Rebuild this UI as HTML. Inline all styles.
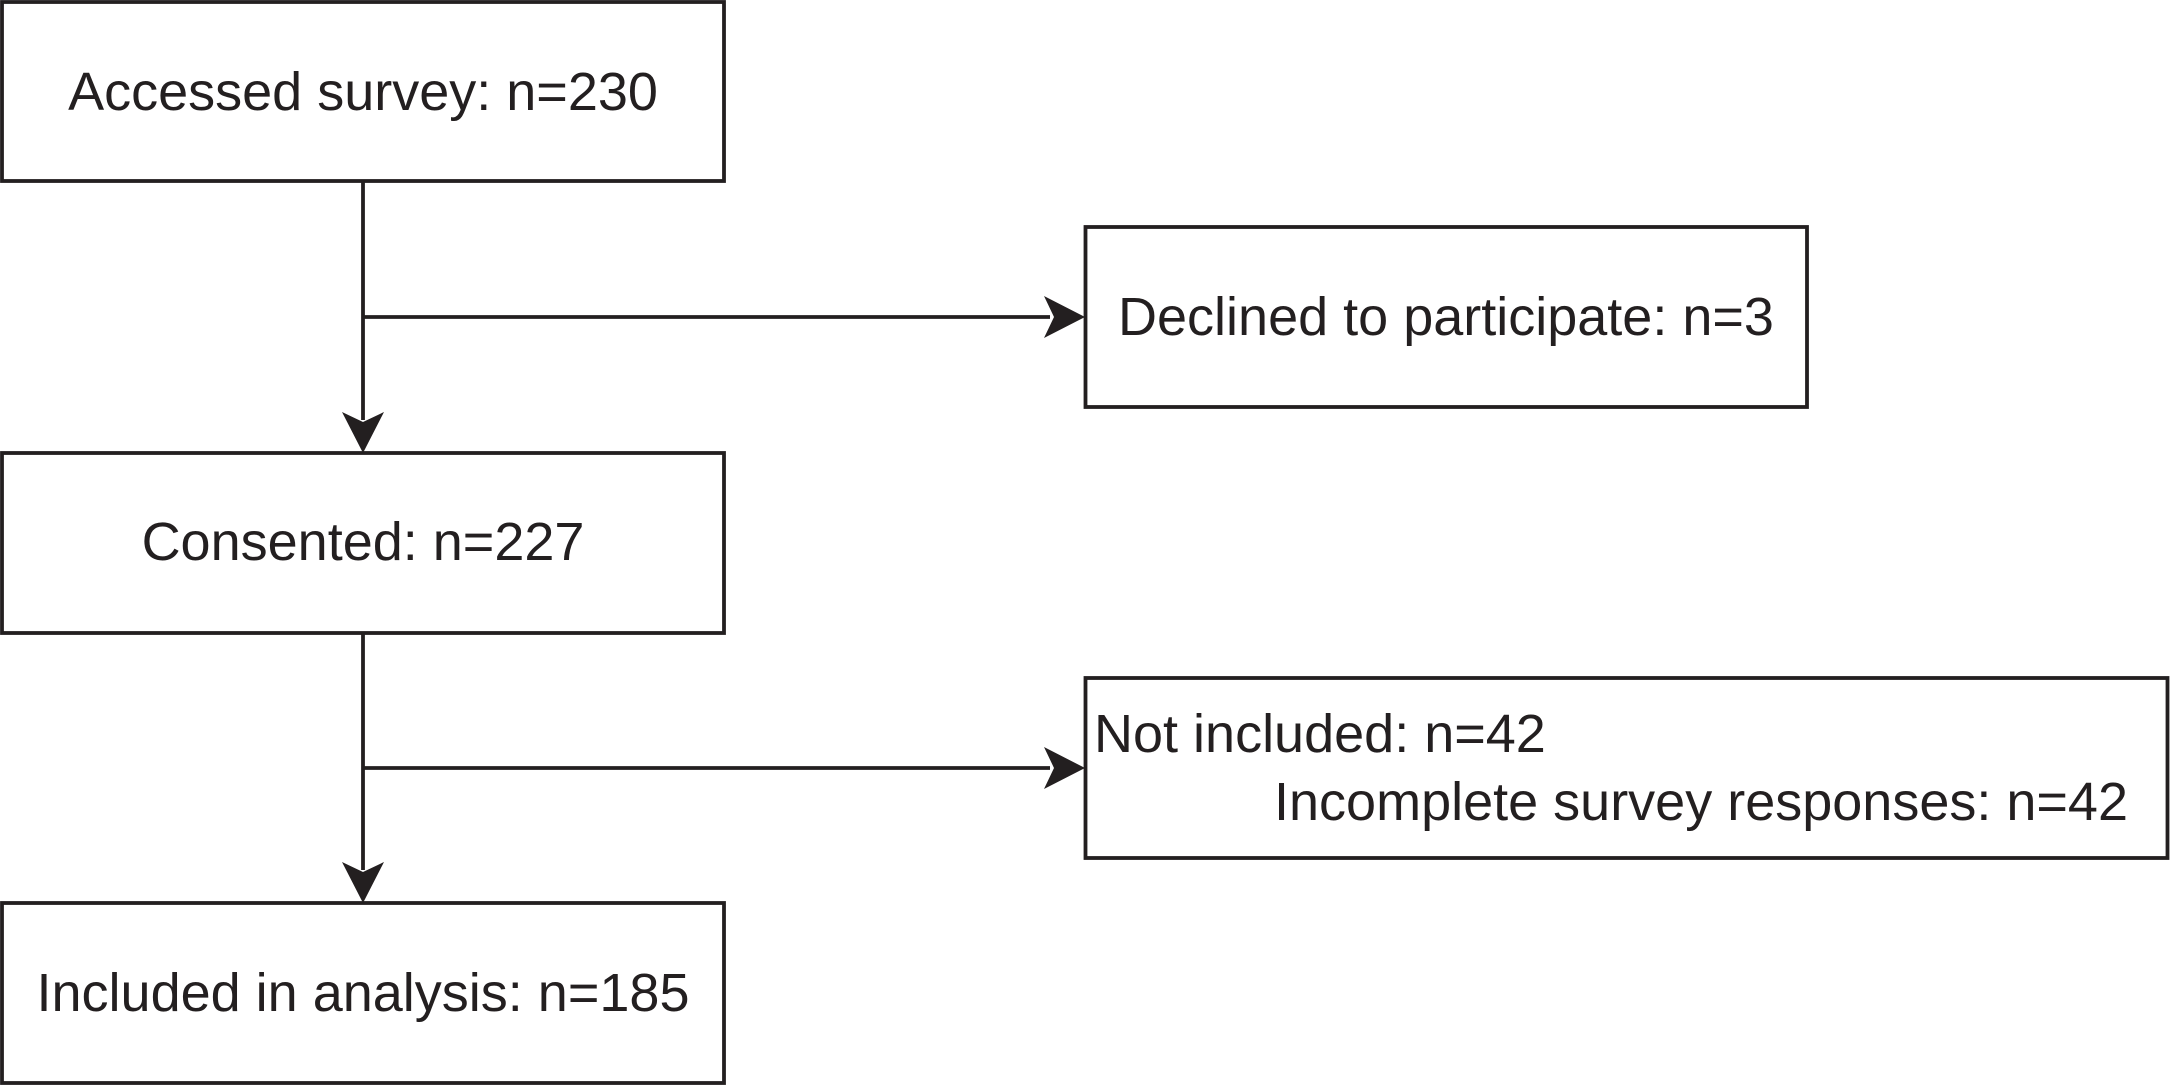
<!DOCTYPE html>
<html><head><meta charset="utf-8"><style>
html,body{margin:0;padding:0;background:#fff;}
svg{display:block;}
text{font-family:"Liberation Sans",Arial,sans-serif;font-size:54px;fill:#231f20;}
</style></head><body>
<svg width="2171" height="1086" viewBox="0 0 2171 1086" xmlns="http://www.w3.org/2000/svg">
<g fill="none" stroke="#231f20" stroke-width="3.8">
<rect x="2" y="2" width="722" height="179"/>
<rect x="2" y="453" width="722" height="180"/>
<rect x="2" y="903" width="722" height="180"/>
<rect x="1085.5" y="227" width="721.5" height="180"/>
<rect x="1085.5" y="678" width="1082" height="180"/>
<line x1="363" y1="181" x2="363" y2="420"/>
<line x1="363" y1="633" x2="363" y2="870"/>
<line x1="363" y1="317" x2="1050" y2="317"/>
<line x1="363" y1="768" x2="1050" y2="768"/>
</g>
<g fill="#231f20">
<polygon points="363,453 342,412 363,422 384,412"/>
<polygon points="363,903 342,862 363,872 384,862"/>
<polygon points="1085,317 1044,296 1054,317 1044,338"/>
<polygon points="1085,768 1044,747 1054,768 1044,789"/>
</g>
<text x="363" y="110" text-anchor="middle">Accessed survey: n=230</text>
<text x="363" y="560" text-anchor="middle">Consented: n=227</text>
<text x="363" y="1011" text-anchor="middle">Included in analysis: n=185</text>
<text x="1446" y="335" text-anchor="middle">Declined to participate: n=3</text>
<text x="1094" y="752">Not included: n=42</text>
<text x="2128" y="820" text-anchor="end">Incomplete survey responses: n=42</text>
</svg>
</body></html>
